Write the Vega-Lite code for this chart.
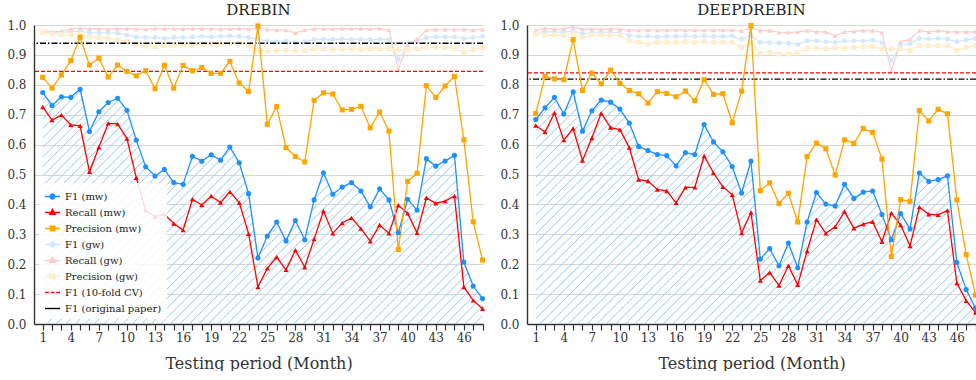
{
"$schema":"https://vega.github.io/schema/vega-lite/v6.json",
"padding":{"left":4,"top":3,"right":0,"bottom":0},
"datasets":{
"ref":[
{"model":"Drebin","series":"F1 (10-fold CV)","value":0.845},
{"model":"Drebin","series":"F1 (original paper)","value":0.939},
{"model":"DeepDrebin","series":"F1 (10-fold CV)","value":0.840},
{"model":"DeepDrebin","series":"F1 (original paper)","value":0.819}
],
"drebin":[
{"month":1,"series":"F1 (mw)","value":0.774},{"month":2,"series":"F1 (mw)","value":0.731},{"month":3,"series":"F1 (mw)","value":0.760},{"month":4,"series":"F1 (mw)","value":0.758},{"month":5,"series":"F1 (mw)","value":0.785},{"month":6,"series":"F1 (mw)","value":0.644},{"month":7,"series":"F1 (mw)","value":0.710},{"month":8,"series":"F1 (mw)","value":0.741},{"month":9,"series":"F1 (mw)","value":0.755},{"month":10,"series":"F1 (mw)","value":0.715},{"month":11,"series":"F1 (mw)","value":0.615},{"month":12,"series":"F1 (mw)","value":0.526},{"month":13,"series":"F1 (mw)","value":0.495},{"month":14,"series":"F1 (mw)","value":0.517},{"month":15,"series":"F1 (mw)","value":0.473},{"month":16,"series":"F1 (mw)","value":0.467},{"month":17,"series":"F1 (mw)","value":0.561},{"month":18,"series":"F1 (mw)","value":0.544},{"month":19,"series":"F1 (mw)","value":0.566},{"month":20,"series":"F1 (mw)","value":0.548},{"month":21,"series":"F1 (mw)","value":0.592},{"month":22,"series":"F1 (mw)","value":0.539},{"month":23,"series":"F1 (mw)","value":0.436},{"month":24,"series":"F1 (mw)","value":0.221},{"month":25,"series":"F1 (mw)","value":0.294},{"month":26,"series":"F1 (mw)","value":0.341},{"month":27,"series":"F1 (mw)","value":0.278},{"month":28,"series":"F1 (mw)","value":0.346},{"month":29,"series":"F1 (mw)","value":0.282},{"month":30,"series":"F1 (mw)","value":0.415},{"month":31,"series":"F1 (mw)","value":0.506},{"month":32,"series":"F1 (mw)","value":0.434},{"month":33,"series":"F1 (mw)","value":0.458},{"month":34,"series":"F1 (mw)","value":0.473},{"month":35,"series":"F1 (mw)","value":0.445},{"month":36,"series":"F1 (mw)","value":0.392},{"month":37,"series":"F1 (mw)","value":0.452},{"month":38,"series":"F1 (mw)","value":0.415},{"month":39,"series":"F1 (mw)","value":0.305},{"month":40,"series":"F1 (mw)","value":0.417},{"month":41,"series":"F1 (mw)","value":0.381},{"month":42,"series":"F1 (mw)","value":0.553},{"month":43,"series":"F1 (mw)","value":0.528},{"month":44,"series":"F1 (mw)","value":0.545},{"month":45,"series":"F1 (mw)","value":0.564},{"month":46,"series":"F1 (mw)","value":0.207},{"month":47,"series":"F1 (mw)","value":0.127},{"month":48,"series":"F1 (mw)","value":0.085},
{"month":1,"series":"Recall (mw)","value":0.726},{"month":2,"series":"Recall (mw)","value":0.682},{"month":3,"series":"Recall (mw)","value":0.699},{"month":4,"series":"Recall (mw)","value":0.666},{"month":5,"series":"Recall (mw)","value":0.663},{"month":6,"series":"Recall (mw)","value":0.509},{"month":7,"series":"Recall (mw)","value":0.591},{"month":8,"series":"Recall (mw)","value":0.671},{"month":9,"series":"Recall (mw)","value":0.669},{"month":10,"series":"Recall (mw)","value":0.620},{"month":11,"series":"Recall (mw)","value":0.489},{"month":12,"series":"Recall (mw)","value":0.380},{"month":13,"series":"Recall (mw)","value":0.359},{"month":14,"series":"Recall (mw)","value":0.367},{"month":15,"series":"Recall (mw)","value":0.336},{"month":16,"series":"Recall (mw)","value":0.314},{"month":17,"series":"Recall (mw)","value":0.417},{"month":18,"series":"Recall (mw)","value":0.398},{"month":19,"series":"Recall (mw)","value":0.428},{"month":20,"series":"Recall (mw)","value":0.406},{"month":21,"series":"Recall (mw)","value":0.442},{"month":22,"series":"Recall (mw)","value":0.406},{"month":23,"series":"Recall (mw)","value":0.302},{"month":24,"series":"Recall (mw)","value":0.124},{"month":25,"series":"Recall (mw)","value":0.186},{"month":26,"series":"Recall (mw)","value":0.224},{"month":27,"series":"Recall (mw)","value":0.181},{"month":28,"series":"Recall (mw)","value":0.247},{"month":29,"series":"Recall (mw)","value":0.190},{"month":30,"series":"Recall (mw)","value":0.284},{"month":31,"series":"Recall (mw)","value":0.378},{"month":32,"series":"Recall (mw)","value":0.303},{"month":33,"series":"Recall (mw)","value":0.338},{"month":34,"series":"Recall (mw)","value":0.355},{"month":35,"series":"Recall (mw)","value":0.319},{"month":36,"series":"Recall (mw)","value":0.277},{"month":37,"series":"Recall (mw)","value":0.331},{"month":38,"series":"Recall (mw)","value":0.303},{"month":39,"series":"Recall (mw)","value":0.397},{"month":40,"series":"Recall (mw)","value":0.370},{"month":41,"series":"Recall (mw)","value":0.305},{"month":42,"series":"Recall (mw)","value":0.422},{"month":43,"series":"Recall (mw)","value":0.404},{"month":44,"series":"Recall (mw)","value":0.411},{"month":45,"series":"Recall (mw)","value":0.428},{"month":46,"series":"Recall (mw)","value":0.124},{"month":47,"series":"Recall (mw)","value":0.079},{"month":48,"series":"Recall (mw)","value":0.051},
{"month":1,"series":"Precision (mw)","value":0.825},{"month":2,"series":"Precision (mw)","value":0.789},{"month":3,"series":"Precision (mw)","value":0.833},{"month":4,"series":"Precision (mw)","value":0.881},{"month":5,"series":"Precision (mw)","value":0.959},{"month":6,"series":"Precision (mw)","value":0.866},{"month":7,"series":"Precision (mw)","value":0.889},{"month":8,"series":"Precision (mw)","value":0.826},{"month":9,"series":"Precision (mw)","value":0.866},{"month":10,"series":"Precision (mw)","value":0.845},{"month":11,"series":"Precision (mw)","value":0.830},{"month":12,"series":"Precision (mw)","value":0.847},{"month":13,"series":"Precision (mw)","value":0.787},{"month":14,"series":"Precision (mw)","value":0.865},{"month":15,"series":"Precision (mw)","value":0.789},{"month":16,"series":"Precision (mw)","value":0.865},{"month":17,"series":"Precision (mw)","value":0.847},{"month":18,"series":"Precision (mw)","value":0.858},{"month":19,"series":"Precision (mw)","value":0.838},{"month":20,"series":"Precision (mw)","value":0.838},{"month":21,"series":"Precision (mw)","value":0.878},{"month":22,"series":"Precision (mw)","value":0.806},{"month":23,"series":"Precision (mw)","value":0.778},{"month":24,"series":"Precision (mw)","value":0.997},{"month":25,"series":"Precision (mw)","value":0.668},{"month":26,"series":"Precision (mw)","value":0.727},{"month":27,"series":"Precision (mw)","value":0.590},{"month":28,"series":"Precision (mw)","value":0.560},{"month":29,"series":"Precision (mw)","value":0.542},{"month":30,"series":"Precision (mw)","value":0.748},{"month":31,"series":"Precision (mw)","value":0.773},{"month":32,"series":"Precision (mw)","value":0.769},{"month":33,"series":"Precision (mw)","value":0.716},{"month":34,"series":"Precision (mw)","value":0.718},{"month":35,"series":"Precision (mw)","value":0.728},{"month":36,"series":"Precision (mw)","value":0.656},{"month":37,"series":"Precision (mw)","value":0.709},{"month":38,"series":"Precision (mw)","value":0.645},{"month":39,"series":"Precision (mw)","value":0.249},{"month":40,"series":"Precision (mw)","value":0.477},{"month":41,"series":"Precision (mw)","value":0.504},{"month":42,"series":"Precision (mw)","value":0.797},{"month":43,"series":"Precision (mw)","value":0.758},{"month":44,"series":"Precision (mw)","value":0.796},{"month":45,"series":"Precision (mw)","value":0.828},{"month":46,"series":"Precision (mw)","value":0.616},{"month":47,"series":"Precision (mw)","value":0.342},{"month":48,"series":"Precision (mw)","value":0.214},
{"month":1,"series":"F1 (gw)","value":0.975},{"month":2,"series":"F1 (gw)","value":0.974},{"month":3,"series":"F1 (gw)","value":0.975},{"month":4,"series":"F1 (gw)","value":0.978},{"month":5,"series":"F1 (gw)","value":0.979},{"month":6,"series":"F1 (gw)","value":0.974},{"month":7,"series":"F1 (gw)","value":0.974},{"month":8,"series":"F1 (gw)","value":0.974},{"month":9,"series":"F1 (gw)","value":0.972},{"month":10,"series":"F1 (gw)","value":0.966},{"month":11,"series":"F1 (gw)","value":0.960},{"month":12,"series":"F1 (gw)","value":0.958},{"month":13,"series":"F1 (gw)","value":0.958},{"month":14,"series":"F1 (gw)","value":0.955},{"month":15,"series":"F1 (gw)","value":0.958},{"month":16,"series":"F1 (gw)","value":0.958},{"month":17,"series":"F1 (gw)","value":0.960},{"month":18,"series":"F1 (gw)","value":0.962},{"month":19,"series":"F1 (gw)","value":0.960},{"month":20,"series":"F1 (gw)","value":0.962},{"month":21,"series":"F1 (gw)","value":0.963},{"month":22,"series":"F1 (gw)","value":0.962},{"month":23,"series":"F1 (gw)","value":0.958},{"month":24,"series":"F1 (gw)","value":0.952},{"month":25,"series":"F1 (gw)","value":0.946},{"month":26,"series":"F1 (gw)","value":0.944},{"month":27,"series":"F1 (gw)","value":0.946},{"month":28,"series":"F1 (gw)","value":0.941},{"month":29,"series":"F1 (gw)","value":0.944},{"month":30,"series":"F1 (gw)","value":0.952},{"month":31,"series":"F1 (gw)","value":0.952},{"month":32,"series":"F1 (gw)","value":0.952},{"month":33,"series":"F1 (gw)","value":0.953},{"month":34,"series":"F1 (gw)","value":0.952},{"month":35,"series":"F1 (gw)","value":0.952},{"month":36,"series":"F1 (gw)","value":0.950},{"month":37,"series":"F1 (gw)","value":0.952},{"month":38,"series":"F1 (gw)","value":0.952},{"month":39,"series":"F1 (gw)","value":0.885},{"month":40,"series":"F1 (gw)","value":0.941},{"month":41,"series":"F1 (gw)","value":0.946},{"month":42,"series":"F1 (gw)","value":0.958},{"month":43,"series":"F1 (gw)","value":0.960},{"month":44,"series":"F1 (gw)","value":0.960},{"month":45,"series":"F1 (gw)","value":0.960},{"month":46,"series":"F1 (gw)","value":0.955},{"month":47,"series":"F1 (gw)","value":0.958},{"month":48,"series":"F1 (gw)","value":0.962},
{"month":1,"series":"Recall (gw)","value":0.981},{"month":2,"series":"Recall (gw)","value":0.977},{"month":3,"series":"Recall (gw)","value":0.979},{"month":4,"series":"Recall (gw)","value":0.986},{"month":5,"series":"Recall (gw)","value":0.990},{"month":6,"series":"Recall (gw)","value":0.988},{"month":7,"series":"Recall (gw)","value":0.988},{"month":8,"series":"Recall (gw)","value":0.986},{"month":9,"series":"Recall (gw)","value":0.988},{"month":10,"series":"Recall (gw)","value":0.988},{"month":11,"series":"Recall (gw)","value":0.986},{"month":12,"series":"Recall (gw)","value":0.986},{"month":13,"series":"Recall (gw)","value":0.988},{"month":14,"series":"Recall (gw)","value":0.988},{"month":15,"series":"Recall (gw)","value":0.988},{"month":16,"series":"Recall (gw)","value":0.986},{"month":17,"series":"Recall (gw)","value":0.988},{"month":18,"series":"Recall (gw)","value":0.988},{"month":19,"series":"Recall (gw)","value":0.988},{"month":20,"series":"Recall (gw)","value":0.986},{"month":21,"series":"Recall (gw)","value":0.988},{"month":22,"series":"Recall (gw)","value":0.988},{"month":23,"series":"Recall (gw)","value":0.986},{"month":24,"series":"Recall (gw)","value":0.990},{"month":25,"series":"Recall (gw)","value":0.985},{"month":26,"series":"Recall (gw)","value":0.983},{"month":27,"series":"Recall (gw)","value":0.983},{"month":28,"series":"Recall (gw)","value":0.974},{"month":29,"series":"Recall (gw)","value":0.983},{"month":30,"series":"Recall (gw)","value":0.988},{"month":31,"series":"Recall (gw)","value":0.988},{"month":32,"series":"Recall (gw)","value":0.988},{"month":33,"series":"Recall (gw)","value":0.988},{"month":34,"series":"Recall (gw)","value":0.988},{"month":35,"series":"Recall (gw)","value":0.988},{"month":36,"series":"Recall (gw)","value":0.988},{"month":37,"series":"Recall (gw)","value":0.988},{"month":38,"series":"Recall (gw)","value":0.983},{"month":39,"series":"Recall (gw)","value":0.852},{"month":40,"series":"Recall (gw)","value":0.935},{"month":41,"series":"Recall (gw)","value":0.952},{"month":42,"series":"Recall (gw)","value":0.983},{"month":43,"series":"Recall (gw)","value":0.985},{"month":44,"series":"Recall (gw)","value":0.985},{"month":45,"series":"Recall (gw)","value":0.985},{"month":46,"series":"Recall (gw)","value":0.985},{"month":47,"series":"Recall (gw)","value":0.983},{"month":48,"series":"Recall (gw)","value":0.985},
{"month":1,"series":"Precision (gw)","value":0.975},{"month":2,"series":"Precision (gw)","value":0.970},{"month":3,"series":"Precision (gw)","value":0.968},{"month":4,"series":"Precision (gw)","value":0.968},{"month":5,"series":"Precision (gw)","value":0.968},{"month":6,"series":"Precision (gw)","value":0.960},{"month":7,"series":"Precision (gw)","value":0.958},{"month":8,"series":"Precision (gw)","value":0.955},{"month":9,"series":"Precision (gw)","value":0.950},{"month":10,"series":"Precision (gw)","value":0.945},{"month":11,"series":"Precision (gw)","value":0.935},{"month":12,"series":"Precision (gw)","value":0.930},{"month":13,"series":"Precision (gw)","value":0.928},{"month":14,"series":"Precision (gw)","value":0.930},{"month":15,"series":"Precision (gw)","value":0.932},{"month":16,"series":"Precision (gw)","value":0.935},{"month":17,"series":"Precision (gw)","value":0.933},{"month":18,"series":"Precision (gw)","value":0.935},{"month":19,"series":"Precision (gw)","value":0.935},{"month":20,"series":"Precision (gw)","value":0.937},{"month":21,"series":"Precision (gw)","value":0.938},{"month":22,"series":"Precision (gw)","value":0.938},{"month":23,"series":"Precision (gw)","value":0.930},{"month":24,"series":"Precision (gw)","value":0.915},{"month":25,"series":"Precision (gw)","value":0.913},{"month":26,"series":"Precision (gw)","value":0.913},{"month":27,"series":"Precision (gw)","value":0.916},{"month":28,"series":"Precision (gw)","value":0.913},{"month":29,"series":"Precision (gw)","value":0.914},{"month":30,"series":"Precision (gw)","value":0.920},{"month":31,"series":"Precision (gw)","value":0.920},{"month":32,"series":"Precision (gw)","value":0.918},{"month":33,"series":"Precision (gw)","value":0.919},{"month":34,"series":"Precision (gw)","value":0.920},{"month":35,"series":"Precision (gw)","value":0.919},{"month":36,"series":"Precision (gw)","value":0.920},{"month":37,"series":"Precision (gw)","value":0.920},{"month":38,"series":"Precision (gw)","value":0.920},{"month":39,"series":"Precision (gw)","value":0.918},{"month":40,"series":"Precision (gw)","value":0.918},{"month":41,"series":"Precision (gw)","value":0.920},{"month":42,"series":"Precision (gw)","value":0.925},{"month":43,"series":"Precision (gw)","value":0.925},{"month":44,"series":"Precision (gw)","value":0.925},{"month":45,"series":"Precision (gw)","value":0.922},{"month":46,"series":"Precision (gw)","value":0.907},{"month":47,"series":"Precision (gw)","value":0.918},{"month":48,"series":"Precision (gw)","value":0.924}
],
"deepdrebin":[
{"month":1,"series":"F1 (mw)","value":0.684},{"month":2,"series":"F1 (mw)","value":0.723},{"month":3,"series":"F1 (mw)","value":0.758},{"month":4,"series":"F1 (mw)","value":0.702},{"month":5,"series":"F1 (mw)","value":0.777},{"month":6,"series":"F1 (mw)","value":0.645},{"month":7,"series":"F1 (mw)","value":0.713},{"month":8,"series":"F1 (mw)","value":0.749},{"month":9,"series":"F1 (mw)","value":0.742},{"month":10,"series":"F1 (mw)","value":0.719},{"month":11,"series":"F1 (mw)","value":0.672},{"month":12,"series":"F1 (mw)","value":0.594},{"month":13,"series":"F1 (mw)","value":0.580},{"month":14,"series":"F1 (mw)","value":0.567},{"month":15,"series":"F1 (mw)","value":0.563},{"month":16,"series":"F1 (mw)","value":0.529},{"month":17,"series":"F1 (mw)","value":0.573},{"month":18,"series":"F1 (mw)","value":0.567},{"month":19,"series":"F1 (mw)","value":0.667},{"month":20,"series":"F1 (mw)","value":0.609},{"month":21,"series":"F1 (mw)","value":0.576},{"month":22,"series":"F1 (mw)","value":0.527},{"month":23,"series":"F1 (mw)","value":0.438},{"month":24,"series":"F1 (mw)","value":0.545},{"month":25,"series":"F1 (mw)","value":0.217},{"month":26,"series":"F1 (mw)","value":0.252},{"month":27,"series":"F1 (mw)","value":0.195},{"month":28,"series":"F1 (mw)","value":0.271},{"month":29,"series":"F1 (mw)","value":0.188},{"month":30,"series":"F1 (mw)","value":0.341},{"month":31,"series":"F1 (mw)","value":0.440},{"month":32,"series":"F1 (mw)","value":0.401},{"month":33,"series":"F1 (mw)","value":0.395},{"month":34,"series":"F1 (mw)","value":0.467},{"month":35,"series":"F1 (mw)","value":0.420},{"month":36,"series":"F1 (mw)","value":0.441},{"month":37,"series":"F1 (mw)","value":0.445},{"month":38,"series":"F1 (mw)","value":0.366},{"month":39,"series":"F1 (mw)","value":0.282},{"month":40,"series":"F1 (mw)","value":0.369},{"month":41,"series":"F1 (mw)","value":0.318},{"month":42,"series":"F1 (mw)","value":0.505},{"month":43,"series":"F1 (mw)","value":0.477},{"month":44,"series":"F1 (mw)","value":0.483},{"month":45,"series":"F1 (mw)","value":0.496},{"month":46,"series":"F1 (mw)","value":0.206},{"month":47,"series":"F1 (mw)","value":0.115},{"month":48,"series":"F1 (mw)","value":0.053},
{"month":1,"series":"Recall (mw)","value":0.664},{"month":2,"series":"Recall (mw)","value":0.642},{"month":3,"series":"Recall (mw)","value":0.706},{"month":4,"series":"Recall (mw)","value":0.615},{"month":5,"series":"Recall (mw)","value":0.654},{"month":6,"series":"Recall (mw)","value":0.547},{"month":7,"series":"Recall (mw)","value":0.622},{"month":8,"series":"Recall (mw)","value":0.705},{"month":9,"series":"Recall (mw)","value":0.657},{"month":10,"series":"Recall (mw)","value":0.650},{"month":11,"series":"Recall (mw)","value":0.590},{"month":12,"series":"Recall (mw)","value":0.483},{"month":13,"series":"Recall (mw)","value":0.478},{"month":14,"series":"Recall (mw)","value":0.450},{"month":15,"series":"Recall (mw)","value":0.445},{"month":16,"series":"Recall (mw)","value":0.405},{"month":17,"series":"Recall (mw)","value":0.457},{"month":18,"series":"Recall (mw)","value":0.457},{"month":19,"series":"Recall (mw)","value":0.562},{"month":20,"series":"Recall (mw)","value":0.505},{"month":21,"series":"Recall (mw)","value":0.459},{"month":22,"series":"Recall (mw)","value":0.432},{"month":23,"series":"Recall (mw)","value":0.304},{"month":24,"series":"Recall (mw)","value":0.373},{"month":25,"series":"Recall (mw)","value":0.145},{"month":26,"series":"Recall (mw)","value":0.172},{"month":27,"series":"Recall (mw)","value":0.129},{"month":28,"series":"Recall (mw)","value":0.195},{"month":29,"series":"Recall (mw)","value":0.131},{"month":30,"series":"Recall (mw)","value":0.244},{"month":31,"series":"Recall (mw)","value":0.349},{"month":32,"series":"Recall (mw)","value":0.303},{"month":33,"series":"Recall (mw)","value":0.325},{"month":34,"series":"Recall (mw)","value":0.376},{"month":35,"series":"Recall (mw)","value":0.320},{"month":36,"series":"Recall (mw)","value":0.334},{"month":37,"series":"Recall (mw)","value":0.342},{"month":38,"series":"Recall (mw)","value":0.275},{"month":39,"series":"Recall (mw)","value":0.371},{"month":40,"series":"Recall (mw)","value":0.331},{"month":41,"series":"Recall (mw)","value":0.261},{"month":42,"series":"Recall (mw)","value":0.391},{"month":43,"series":"Recall (mw)","value":0.367},{"month":44,"series":"Recall (mw)","value":0.365},{"month":45,"series":"Recall (mw)","value":0.380},{"month":46,"series":"Recall (mw)","value":0.137},{"month":47,"series":"Recall (mw)","value":0.078},{"month":48,"series":"Recall (mw)","value":0.038},
{"month":1,"series":"Precision (mw)","value":0.704},{"month":2,"series":"Precision (mw)","value":0.828},{"month":3,"series":"Precision (mw)","value":0.820},{"month":4,"series":"Precision (mw)","value":0.817},{"month":5,"series":"Precision (mw)","value":0.951},{"month":6,"series":"Precision (mw)","value":0.781},{"month":7,"series":"Precision (mw)","value":0.839},{"month":8,"series":"Precision (mw)","value":0.803},{"month":9,"series":"Precision (mw)","value":0.849},{"month":10,"series":"Precision (mw)","value":0.805},{"month":11,"series":"Precision (mw)","value":0.781},{"month":12,"series":"Precision (mw)","value":0.770},{"month":13,"series":"Precision (mw)","value":0.739},{"month":14,"series":"Precision (mw)","value":0.777},{"month":15,"series":"Precision (mw)","value":0.771},{"month":16,"series":"Precision (mw)","value":0.760},{"month":17,"series":"Precision (mw)","value":0.779},{"month":18,"series":"Precision (mw)","value":0.747},{"month":19,"series":"Precision (mw)","value":0.817},{"month":20,"series":"Precision (mw)","value":0.768},{"month":21,"series":"Precision (mw)","value":0.770},{"month":22,"series":"Precision (mw)","value":0.673},{"month":23,"series":"Precision (mw)","value":0.779},{"month":24,"series":"Precision (mw)","value":0.998},{"month":25,"series":"Precision (mw)","value":0.446},{"month":26,"series":"Precision (mw)","value":0.472},{"month":27,"series":"Precision (mw)","value":0.403},{"month":28,"series":"Precision (mw)","value":0.437},{"month":29,"series":"Precision (mw)","value":0.341},{"month":30,"series":"Precision (mw)","value":0.560},{"month":31,"series":"Precision (mw)","value":0.605},{"month":32,"series":"Precision (mw)","value":0.586},{"month":33,"series":"Precision (mw)","value":0.498},{"month":34,"series":"Precision (mw)","value":0.616},{"month":35,"series":"Precision (mw)","value":0.604},{"month":36,"series":"Precision (mw)","value":0.654},{"month":37,"series":"Precision (mw)","value":0.641},{"month":38,"series":"Precision (mw)","value":0.552},{"month":39,"series":"Precision (mw)","value":0.226},{"month":40,"series":"Precision (mw)","value":0.416},{"month":41,"series":"Precision (mw)","value":0.410},{"month":42,"series":"Precision (mw)","value":0.714},{"month":43,"series":"Precision (mw)","value":0.679},{"month":44,"series":"Precision (mw)","value":0.718},{"month":45,"series":"Precision (mw)","value":0.703},{"month":46,"series":"Precision (mw)","value":0.415},{"month":47,"series":"Precision (mw)","value":0.232},{"month":48,"series":"Precision (mw)","value":0.097},
{"month":1,"series":"F1 (gw)","value":0.975},{"month":2,"series":"F1 (gw)","value":0.977},{"month":3,"series":"F1 (gw)","value":0.977},{"month":4,"series":"F1 (gw)","value":0.976},{"month":5,"series":"F1 (gw)","value":0.981},{"month":6,"series":"F1 (gw)","value":0.970},{"month":7,"series":"F1 (gw)","value":0.975},{"month":8,"series":"F1 (gw)","value":0.977},{"month":9,"series":"F1 (gw)","value":0.975},{"month":10,"series":"F1 (gw)","value":0.975},{"month":11,"series":"F1 (gw)","value":0.964},{"month":12,"series":"F1 (gw)","value":0.962},{"month":13,"series":"F1 (gw)","value":0.962},{"month":14,"series":"F1 (gw)","value":0.960},{"month":15,"series":"F1 (gw)","value":0.962},{"month":16,"series":"F1 (gw)","value":0.962},{"month":17,"series":"F1 (gw)","value":0.963},{"month":18,"series":"F1 (gw)","value":0.962},{"month":19,"series":"F1 (gw)","value":0.963},{"month":20,"series":"F1 (gw)","value":0.962},{"month":21,"series":"F1 (gw)","value":0.962},{"month":22,"series":"F1 (gw)","value":0.963},{"month":23,"series":"F1 (gw)","value":0.953},{"month":24,"series":"F1 (gw)","value":0.965},{"month":25,"series":"F1 (gw)","value":0.942},{"month":26,"series":"F1 (gw)","value":0.941},{"month":27,"series":"F1 (gw)","value":0.939},{"month":28,"series":"F1 (gw)","value":0.939},{"month":29,"series":"F1 (gw)","value":0.935},{"month":30,"series":"F1 (gw)","value":0.947},{"month":31,"series":"F1 (gw)","value":0.947},{"month":32,"series":"F1 (gw)","value":0.944},{"month":33,"series":"F1 (gw)","value":0.942},{"month":34,"series":"F1 (gw)","value":0.947},{"month":35,"series":"F1 (gw)","value":0.947},{"month":36,"series":"F1 (gw)","value":0.947},{"month":37,"series":"F1 (gw)","value":0.950},{"month":38,"series":"F1 (gw)","value":0.941},{"month":39,"series":"F1 (gw)","value":0.881},{"month":40,"series":"F1 (gw)","value":0.934},{"month":41,"series":"F1 (gw)","value":0.937},{"month":42,"series":"F1 (gw)","value":0.955},{"month":43,"series":"F1 (gw)","value":0.953},{"month":44,"series":"F1 (gw)","value":0.955},{"month":45,"series":"F1 (gw)","value":0.953},{"month":46,"series":"F1 (gw)","value":0.944},{"month":47,"series":"F1 (gw)","value":0.950},{"month":48,"series":"F1 (gw)","value":0.955},
{"month":1,"series":"Recall (gw)","value":0.982},{"month":2,"series":"Recall (gw)","value":0.989},{"month":3,"series":"Recall (gw)","value":0.986},{"month":4,"series":"Recall (gw)","value":0.987},{"month":5,"series":"Recall (gw)","value":0.994},{"month":6,"series":"Recall (gw)","value":0.986},{"month":7,"series":"Recall (gw)","value":0.987},{"month":8,"series":"Recall (gw)","value":0.986},{"month":9,"series":"Recall (gw)","value":0.987},{"month":10,"series":"Recall (gw)","value":0.986},{"month":11,"series":"Recall (gw)","value":0.983},{"month":12,"series":"Recall (gw)","value":0.983},{"month":13,"series":"Recall (gw)","value":0.983},{"month":14,"series":"Recall (gw)","value":0.983},{"month":15,"series":"Recall (gw)","value":0.983},{"month":16,"series":"Recall (gw)","value":0.983},{"month":17,"series":"Recall (gw)","value":0.983},{"month":18,"series":"Recall (gw)","value":0.983},{"month":19,"series":"Recall (gw)","value":0.983},{"month":20,"series":"Recall (gw)","value":0.983},{"month":21,"series":"Recall (gw)","value":0.983},{"month":22,"series":"Recall (gw)","value":0.983},{"month":23,"series":"Recall (gw)","value":0.980},{"month":24,"series":"Recall (gw)","value":0.990},{"month":25,"series":"Recall (gw)","value":0.981},{"month":26,"series":"Recall (gw)","value":0.981},{"month":27,"series":"Recall (gw)","value":0.975},{"month":28,"series":"Recall (gw)","value":0.975},{"month":29,"series":"Recall (gw)","value":0.977},{"month":30,"series":"Recall (gw)","value":0.981},{"month":31,"series":"Recall (gw)","value":0.977},{"month":32,"series":"Recall (gw)","value":0.977},{"month":33,"series":"Recall (gw)","value":0.964},{"month":34,"series":"Recall (gw)","value":0.977},{"month":35,"series":"Recall (gw)","value":0.979},{"month":36,"series":"Recall (gw)","value":0.981},{"month":37,"series":"Recall (gw)","value":0.981},{"month":38,"series":"Recall (gw)","value":0.975},{"month":39,"series":"Recall (gw)","value":0.847},{"month":40,"series":"Recall (gw)","value":0.944},{"month":41,"series":"Recall (gw)","value":0.952},{"month":42,"series":"Recall (gw)","value":0.981},{"month":43,"series":"Recall (gw)","value":0.977},{"month":44,"series":"Recall (gw)","value":0.981},{"month":45,"series":"Recall (gw)","value":0.977},{"month":46,"series":"Recall (gw)","value":0.977},{"month":47,"series":"Recall (gw)","value":0.977},{"month":48,"series":"Recall (gw)","value":0.977},
{"month":1,"series":"Precision (gw)","value":0.970},{"month":2,"series":"Precision (gw)","value":0.966},{"month":3,"series":"Precision (gw)","value":0.967},{"month":4,"series":"Precision (gw)","value":0.966},{"month":5,"series":"Precision (gw)","value":0.972},{"month":6,"series":"Precision (gw)","value":0.959},{"month":7,"series":"Precision (gw)","value":0.966},{"month":8,"series":"Precision (gw)","value":0.967},{"month":9,"series":"Precision (gw)","value":0.966},{"month":10,"series":"Precision (gw)","value":0.966},{"month":11,"series":"Precision (gw)","value":0.947},{"month":12,"series":"Precision (gw)","value":0.942},{"month":13,"series":"Precision (gw)","value":0.936},{"month":14,"series":"Precision (gw)","value":0.942},{"month":15,"series":"Precision (gw)","value":0.943},{"month":16,"series":"Precision (gw)","value":0.943},{"month":17,"series":"Precision (gw)","value":0.944},{"month":18,"series":"Precision (gw)","value":0.942},{"month":19,"series":"Precision (gw)","value":0.944},{"month":20,"series":"Precision (gw)","value":0.943},{"month":21,"series":"Precision (gw)","value":0.942},{"month":22,"series":"Precision (gw)","value":0.942},{"month":23,"series":"Precision (gw)","value":0.925},{"month":24,"series":"Precision (gw)","value":0.940},{"month":25,"series":"Precision (gw)","value":0.906},{"month":26,"series":"Precision (gw)","value":0.908},{"month":27,"series":"Precision (gw)","value":0.903},{"month":28,"series":"Precision (gw)","value":0.903},{"month":29,"series":"Precision (gw)","value":0.906},{"month":30,"series":"Precision (gw)","value":0.922},{"month":31,"series":"Precision (gw)","value":0.923},{"month":32,"series":"Precision (gw)","value":0.920},{"month":33,"series":"Precision (gw)","value":0.925},{"month":34,"series":"Precision (gw)","value":0.922},{"month":35,"series":"Precision (gw)","value":0.925},{"month":36,"series":"Precision (gw)","value":0.927},{"month":37,"series":"Precision (gw)","value":0.928},{"month":38,"series":"Precision (gw)","value":0.920},{"month":39,"series":"Precision (gw)","value":0.920},{"month":40,"series":"Precision (gw)","value":0.920},{"month":41,"series":"Precision (gw)","value":0.914},{"month":42,"series":"Precision (gw)","value":0.931},{"month":43,"series":"Precision (gw)","value":0.931},{"month":44,"series":"Precision (gw)","value":0.931},{"month":45,"series":"Precision (gw)","value":0.931},{"month":46,"series":"Precision (gw)","value":0.914},{"month":47,"series":"Precision (gw)","value":0.925},{"month":48,"series":"Precision (gw)","value":0.931}
]
},
"hconcat":[
{
"width":449,"height":299,
"title":"DREBIN",
"data":{"name":"drebin"},
"layer":[
{"layer":[
{"transform":[{"filter":"datum.series==='F1 (mw)'"}],"mark":{"type":"area"}},
{"transform":[{"filter":"indexof(datum.series,'(gw)')>=0"}],"mark":{"type":"line","strokeWidth":1.2},"encoding":{"color":{"field":"series","type":"nominal"}}},
{"transform":[{"filter":"indexof(datum.series,'(gw)')>=0"}],"mark":{"type":"point","filled":true,"size":24,"opacity":1},"encoding":{"color":{"field":"series","type":"nominal"},"shape":{"field":"series","type":"nominal","scale":{"domain":["F1 (mw)","Recall (mw)","Precision (mw)","F1 (gw)","Recall (gw)","Precision (gw)"],"range":["circle","triangle-up","square","circle","triangle-up","square"]},"legend":null}}}
],
"encoding":{
 "x":{"field":"month","type":"quantitative","scale":{"domain":[0.07,48.05],"nice":false,"zero":false},"axis":{"values":[1,2,3,4,5,6,7,8,9,10,11,12,13,14,15,16,17,18,19,20,21,22,23,24,25,26,27,28,29,30,31,32,33,34,35,36,37,38,39,40,41,42,43,44,45,46,47,48],"labelExpr":"(datum.value-1)%3===0 ? datum.label : ''","labelOverlap":false,"labelSeparation":0},"title":"Testing period (Month)"},
 "y":{"field":"value","type":"quantitative","stack":null,"scale":{"domain":[0,1],"nice":false},"axis":{"values":[0,0.1,0.2,0.3,0.4,0.5,0.6,0.7,0.8,0.9,1],"format":".1f","labelOverlap":false},"title":null}}},
{"data":{"name":"ref"},"transform":[{"filter":"datum.model==='Drebin' && datum.series==='F1 (10-fold CV)'"}],
 "mark":{"type":"rule","strokeDash":[4,2],"strokeWidth":1.3},
 "encoding":{"y":{"field":"value","type":"quantitative","axis":{"values":[0,0.1,0.2,0.3,0.4,0.5,0.6,0.7,0.8,0.9,1],"format":".1f","labelOverlap":false}},"color":{"field":"series","type":"nominal"}}},
{"data":{"name":"ref"},"transform":[{"filter":"datum.model==='Drebin' && datum.series==='F1 (original paper)'"}],
 "mark":{"type":"rule","strokeDash":[6,2,1.5,2],"strokeWidth":1.3},
 "encoding":{"y":{"field":"value","type":"quantitative","axis":{"values":[0,0.1,0.2,0.3,0.4,0.5,0.6,0.7,0.8,0.9,1],"format":".1f","labelOverlap":false}},"color":{"field":"series","type":"nominal"}}},
{"layer":[
{"transform":[{"filter":"indexof(datum.series,'(mw)')>=0"}],"mark":{"type":"line","strokeWidth":1.3}},
{"transform":[{"filter":"indexof(datum.series,'(mw)')>=0"}],"mark":{"type":"point","filled":true,"size":26,"opacity":1},"encoding":{"shape":{"field":"series","type":"nominal","legend":null}}}
],
"encoding":{
 "x":{"field":"month","type":"quantitative","axis":{"values":[1,2,3,4,5,6,7,8,9,10,11,12,13,14,15,16,17,18,19,20,21,22,23,24,25,26,27,28,29,30,31,32,33,34,35,36,37,38,39,40,41,42,43,44,45,46,47,48],"labelExpr":"(datum.value-1)%3===0 ? datum.label : ''","labelOverlap":false,"labelSeparation":0},"title":"Testing period (Month)"},
 "y":{"field":"value","type":"quantitative","axis":{"values":[0,0.1,0.2,0.3,0.4,0.5,0.6,0.7,0.8,0.9,1],"format":".1f","labelOverlap":false},"title":null},
 "color":{"field":"series","type":"nominal","scale":{"domain":["F1 (mw)","Recall (mw)","Precision (mw)","F1 (gw)","Recall (gw)","Precision (gw)","F1 (10-fold CV)","F1 (original paper)"],"range":["#1e90ff","#ff0000","#ffa500","#d2e8ff","#ffcccc","#ffedcc","#ff0000","#000000"]},
   "legend":{"title":null,"orient":"bottom-left","encode":{"symbols":{"update":{
    "shape":{"signal":"({'F1 (mw)':'M-1,0L1,0M0.33,0A0.33,0.33,0,1,1,-0.33,0A0.33,0.33,0,1,1,0.33,0Z','Recall (mw)':'M-1,0L1,0M0,-0.4L0.37,0.25L-0.37,0.25Z','Precision (mw)':'M-1,0L1,0M-0.3,-0.3L0.3,-0.3L0.3,0.3L-0.3,0.3Z','F1 (gw)':'M-1,0L1,0M0.33,0A0.33,0.33,0,1,1,-0.33,0A0.33,0.33,0,1,1,0.33,0Z','Recall (gw)':'M-1,0L1,0M0,-0.4L0.37,0.25L-0.37,0.25Z','Precision (gw)':'M-1,0L1,0M-0.3,-0.3L0.3,-0.3L0.3,0.3L-0.3,0.3Z','F1 (10-fold CV)':'M-1,0L-0.5,0M-0.25,0L0.25,0M0.5,0L1,0','F1 (original paper)':'M-1,0L1,0'})[datum.value]"},
    "fill":{"signal":"({'F1 (mw)':'#1e90ff','Recall (mw)':'#ff0000','Precision (mw)':'#ffa500','F1 (gw)':'#d2e8ff','Recall (gw)':'#ffcccc','Precision (gw)':'#ffedcc','F1 (10-fold CV)':'#ff0000','F1 (original paper)':'#000000'})[datum.value]"},
    "stroke":{"signal":"({'F1 (mw)':'#1e90ff','Recall (mw)':'#ff0000','Precision (mw)':'#ffa500','F1 (gw)':'#d2e8ff','Recall (gw)':'#ffcccc','Precision (gw)':'#ffedcc','F1 (10-fold CV)':'#ff0000','F1 (original paper)':'#000000'})[datum.value]"},
    "strokeWidth":{"value":1.4},"opacity":{"value":1}}}}}}}}
]
},
{
"width":449,"height":299,
"title":"DEEPDREBIN",
"data":{"name":"deepdrebin"},
"layer":[
{"layer":[
{"transform":[{"filter":"datum.series==='F1 (mw)'"}],"mark":{"type":"area"}},
{"transform":[{"filter":"indexof(datum.series,'(gw)')>=0"}],"mark":{"type":"line","strokeWidth":1.2},"encoding":{"color":{"field":"series","type":"nominal","legend":null}}},
{"transform":[{"filter":"indexof(datum.series,'(gw)')>=0"}],"mark":{"type":"point","filled":true,"size":24,"opacity":1},"encoding":{"color":{"field":"series","type":"nominal","legend":null},"shape":{"field":"series","type":"nominal","scale":{"domain":["F1 (mw)","Recall (mw)","Precision (mw)","F1 (gw)","Recall (gw)","Precision (gw)"],"range":["circle","triangle-up","square","circle","triangle-up","square"]},"legend":null}}}
],
"encoding":{
 "x":{"field":"month","type":"quantitative","scale":{"domain":[0.07,48.05],"nice":false,"zero":false},"axis":{"values":[1,2,3,4,5,6,7,8,9,10,11,12,13,14,15,16,17,18,19,20,21,22,23,24,25,26,27,28,29,30,31,32,33,34,35,36,37,38,39,40,41,42,43,44,45,46,47,48],"labelExpr":"(datum.value-1)%3===0 ? datum.label : ''","labelOverlap":false,"labelSeparation":0},"title":"Testing period (Month)"},
 "y":{"field":"value","type":"quantitative","stack":null,"scale":{"domain":[0,1],"nice":false},"axis":{"values":[0,0.1,0.2,0.3,0.4,0.5,0.6,0.7,0.8,0.9,1],"format":".1f","labelOverlap":false},"title":null}}},
{"data":{"name":"ref"},"transform":[{"filter":"datum.model==='DeepDrebin' && datum.series==='F1 (10-fold CV)'"}],
 "mark":{"type":"rule","strokeDash":[4,2],"strokeWidth":1.3},
 "encoding":{"y":{"field":"value","type":"quantitative","axis":{"values":[0,0.1,0.2,0.3,0.4,0.5,0.6,0.7,0.8,0.9,1],"format":".1f","labelOverlap":false}},"color":{"field":"series","type":"nominal","legend":null}}},
{"data":{"name":"ref"},"transform":[{"filter":"datum.model==='DeepDrebin' && datum.series==='F1 (original paper)'"}],
 "mark":{"type":"rule","strokeDash":[6,2,1.5,2],"strokeWidth":1.3},
 "encoding":{"y":{"field":"value","type":"quantitative","axis":{"values":[0,0.1,0.2,0.3,0.4,0.5,0.6,0.7,0.8,0.9,1],"format":".1f","labelOverlap":false}},"color":{"field":"series","type":"nominal","legend":null}}},
{"layer":[
{"transform":[{"filter":"indexof(datum.series,'(mw)')>=0"}],"mark":{"type":"line","strokeWidth":1.3}},
{"transform":[{"filter":"indexof(datum.series,'(mw)')>=0"}],"mark":{"type":"point","filled":true,"size":26,"opacity":1},"encoding":{"shape":{"field":"series","type":"nominal","legend":null}}}
],
"encoding":{
 "x":{"field":"month","type":"quantitative","axis":{"values":[1,2,3,4,5,6,7,8,9,10,11,12,13,14,15,16,17,18,19,20,21,22,23,24,25,26,27,28,29,30,31,32,33,34,35,36,37,38,39,40,41,42,43,44,45,46,47,48],"labelExpr":"(datum.value-1)%3===0 ? datum.label : ''","labelOverlap":false,"labelSeparation":0},"title":"Testing period (Month)"},
 "y":{"field":"value","type":"quantitative","axis":{"values":[0,0.1,0.2,0.3,0.4,0.5,0.6,0.7,0.8,0.9,1],"format":".1f","labelOverlap":false},"title":null},
 "color":{"field":"series","type":"nominal","scale":{"domain":["F1 (mw)","Recall (mw)","Precision (mw)","F1 (gw)","Recall (gw)","Precision (gw)","F1 (10-fold CV)","F1 (original paper)"],"range":["#1e90ff","#ff0000","#ffa500","#d2e8ff","#ffcccc","#ffedcc","#ff0000","#000000"]},"legend":null}}}
]
}
],
"resolve":{"scale":{"color":"independent","shape":"independent"}},
"config":{
 "view":{"stroke":null},
 "font":"DejaVu Serif",
 "concat":{"spacing":11},
 "title":{"font":"DejaVu Serif","fontSize":15,"fontWeight":"normal","color":"#222222","offset":1},
 "axis":{"labelFont":"DejaVu Serif","titleFont":"DejaVu Serif","labelFontSize":12,"titleFontSize":16,"titleFontWeight":"normal","labelColor":"#333333","titleColor":"#333333","domainColor":"#333333","domainWidth":1.4,"gridColor":"#d6d6d6","gridWidth":1,"labelOverlap":false},
 "axisX":{"grid":false,"ticks":true,"tickColor":"#333333","tickSize":6,"tickWidth":1.2,"labelPadding":2,"titlePadding":12,"labelOverlap":false},
 "axisY":{"grid":true,"ticks":false,"labelPadding":8,"minExtent":30,"maxExtent":30,"labelOverlap":false},
 "legend":{"labelFont":"DejaVu Serif","labelFontSize":10,"labelColor":"#222222","fillColor":"rgba(255,255,255,0.85)","padding":5,"offset":5,"rowPadding":2,"symbolSize":225,"labelOffset":4},
 "area":{"fill":{"gradient":"linear","x1":0,"y1":0,"x2":1.345,"y2":0.718,"stops":[
{"offset":0,"color":"rgba(158,205,250,0)"},{"offset":0.0015,"color":"#9ecdfa"},{"offset":0.003,"color":"rgba(158,205,250,0)"},
{"offset":0.0125,"color":"rgba(158,205,250,0)"},{"offset":0.014,"color":"#9ecdfa"},{"offset":0.0155,"color":"rgba(158,205,250,0)"},
{"offset":0.025,"color":"rgba(158,205,250,0)"},{"offset":0.0265,"color":"#9ecdfa"},{"offset":0.028,"color":"rgba(158,205,250,0)"},
{"offset":0.0375,"color":"rgba(158,205,250,0)"},{"offset":0.039,"color":"#9ecdfa"},{"offset":0.0405,"color":"rgba(158,205,250,0)"},
{"offset":0.05,"color":"rgba(158,205,250,0)"},{"offset":0.0515,"color":"#9ecdfa"},{"offset":0.053,"color":"rgba(158,205,250,0)"},
{"offset":0.0625,"color":"rgba(158,205,250,0)"},{"offset":0.064,"color":"#9ecdfa"},{"offset":0.0655,"color":"rgba(158,205,250,0)"},
{"offset":0.075,"color":"rgba(158,205,250,0)"},{"offset":0.0765,"color":"#9ecdfa"},{"offset":0.078,"color":"rgba(158,205,250,0)"},
{"offset":0.0875,"color":"rgba(158,205,250,0)"},{"offset":0.089,"color":"#9ecdfa"},{"offset":0.0905,"color":"rgba(158,205,250,0)"},
{"offset":0.1,"color":"rgba(158,205,250,0)"},{"offset":0.1015,"color":"#9ecdfa"},{"offset":0.103,"color":"rgba(158,205,250,0)"},
{"offset":0.1125,"color":"rgba(158,205,250,0)"},{"offset":0.114,"color":"#9ecdfa"},{"offset":0.1155,"color":"rgba(158,205,250,0)"},
{"offset":0.125,"color":"rgba(158,205,250,0)"},{"offset":0.1265,"color":"#9ecdfa"},{"offset":0.128,"color":"rgba(158,205,250,0)"},
{"offset":0.1375,"color":"rgba(158,205,250,0)"},{"offset":0.139,"color":"#9ecdfa"},{"offset":0.1405,"color":"rgba(158,205,250,0)"},
{"offset":0.15,"color":"rgba(158,205,250,0)"},{"offset":0.1515,"color":"#9ecdfa"},{"offset":0.153,"color":"rgba(158,205,250,0)"},
{"offset":0.1625,"color":"rgba(158,205,250,0)"},{"offset":0.164,"color":"#9ecdfa"},{"offset":0.1655,"color":"rgba(158,205,250,0)"},
{"offset":0.175,"color":"rgba(158,205,250,0)"},{"offset":0.1765,"color":"#9ecdfa"},{"offset":0.178,"color":"rgba(158,205,250,0)"},
{"offset":0.1875,"color":"rgba(158,205,250,0)"},{"offset":0.189,"color":"#9ecdfa"},{"offset":0.1905,"color":"rgba(158,205,250,0)"},
{"offset":0.2,"color":"rgba(158,205,250,0)"},{"offset":0.2015,"color":"#9ecdfa"},{"offset":0.203,"color":"rgba(158,205,250,0)"},
{"offset":0.2125,"color":"rgba(158,205,250,0)"},{"offset":0.214,"color":"#9ecdfa"},{"offset":0.2155,"color":"rgba(158,205,250,0)"},
{"offset":0.225,"color":"rgba(158,205,250,0)"},{"offset":0.2265,"color":"#9ecdfa"},{"offset":0.228,"color":"rgba(158,205,250,0)"},
{"offset":0.2375,"color":"rgba(158,205,250,0)"},{"offset":0.239,"color":"#9ecdfa"},{"offset":0.2405,"color":"rgba(158,205,250,0)"},
{"offset":0.25,"color":"rgba(158,205,250,0)"},{"offset":0.2515,"color":"#9ecdfa"},{"offset":0.253,"color":"rgba(158,205,250,0)"},
{"offset":0.2625,"color":"rgba(158,205,250,0)"},{"offset":0.264,"color":"#9ecdfa"},{"offset":0.2655,"color":"rgba(158,205,250,0)"},
{"offset":0.275,"color":"rgba(158,205,250,0)"},{"offset":0.2765,"color":"#9ecdfa"},{"offset":0.278,"color":"rgba(158,205,250,0)"},
{"offset":0.2875,"color":"rgba(158,205,250,0)"},{"offset":0.289,"color":"#9ecdfa"},{"offset":0.2905,"color":"rgba(158,205,250,0)"},
{"offset":0.3,"color":"rgba(158,205,250,0)"},{"offset":0.3015,"color":"#9ecdfa"},{"offset":0.303,"color":"rgba(158,205,250,0)"},
{"offset":0.3125,"color":"rgba(158,205,250,0)"},{"offset":0.314,"color":"#9ecdfa"},{"offset":0.3155,"color":"rgba(158,205,250,0)"},
{"offset":0.325,"color":"rgba(158,205,250,0)"},{"offset":0.3265,"color":"#9ecdfa"},{"offset":0.328,"color":"rgba(158,205,250,0)"},
{"offset":0.3375,"color":"rgba(158,205,250,0)"},{"offset":0.339,"color":"#9ecdfa"},{"offset":0.3405,"color":"rgba(158,205,250,0)"},
{"offset":0.35,"color":"rgba(158,205,250,0)"},{"offset":0.3515,"color":"#9ecdfa"},{"offset":0.353,"color":"rgba(158,205,250,0)"},
{"offset":0.3625,"color":"rgba(158,205,250,0)"},{"offset":0.364,"color":"#9ecdfa"},{"offset":0.3655,"color":"rgba(158,205,250,0)"},
{"offset":0.375,"color":"rgba(158,205,250,0)"},{"offset":0.3765,"color":"#9ecdfa"},{"offset":0.378,"color":"rgba(158,205,250,0)"},
{"offset":0.3875,"color":"rgba(158,205,250,0)"},{"offset":0.389,"color":"#9ecdfa"},{"offset":0.3905,"color":"rgba(158,205,250,0)"},
{"offset":0.4,"color":"rgba(158,205,250,0)"},{"offset":0.4015,"color":"#9ecdfa"},{"offset":0.403,"color":"rgba(158,205,250,0)"},
{"offset":0.4125,"color":"rgba(158,205,250,0)"},{"offset":0.414,"color":"#9ecdfa"},{"offset":0.4155,"color":"rgba(158,205,250,0)"},
{"offset":0.425,"color":"rgba(158,205,250,0)"},{"offset":0.4265,"color":"#9ecdfa"},{"offset":0.428,"color":"rgba(158,205,250,0)"},
{"offset":0.4375,"color":"rgba(158,205,250,0)"},{"offset":0.439,"color":"#9ecdfa"},{"offset":0.4405,"color":"rgba(158,205,250,0)"},
{"offset":0.45,"color":"rgba(158,205,250,0)"},{"offset":0.4515,"color":"#9ecdfa"},{"offset":0.453,"color":"rgba(158,205,250,0)"},
{"offset":0.4625,"color":"rgba(158,205,250,0)"},{"offset":0.464,"color":"#9ecdfa"},{"offset":0.4655,"color":"rgba(158,205,250,0)"},
{"offset":0.475,"color":"rgba(158,205,250,0)"},{"offset":0.4765,"color":"#9ecdfa"},{"offset":0.478,"color":"rgba(158,205,250,0)"},
{"offset":0.4875,"color":"rgba(158,205,250,0)"},{"offset":0.489,"color":"#9ecdfa"},{"offset":0.4905,"color":"rgba(158,205,250,0)"},
{"offset":0.5,"color":"rgba(158,205,250,0)"},{"offset":0.5015,"color":"#9ecdfa"},{"offset":0.503,"color":"rgba(158,205,250,0)"},
{"offset":0.5125,"color":"rgba(158,205,250,0)"},{"offset":0.514,"color":"#9ecdfa"},{"offset":0.5155,"color":"rgba(158,205,250,0)"},
{"offset":0.525,"color":"rgba(158,205,250,0)"},{"offset":0.5265,"color":"#9ecdfa"},{"offset":0.528,"color":"rgba(158,205,250,0)"},
{"offset":0.5375,"color":"rgba(158,205,250,0)"},{"offset":0.539,"color":"#9ecdfa"},{"offset":0.5405,"color":"rgba(158,205,250,0)"},
{"offset":0.55,"color":"rgba(158,205,250,0)"},{"offset":0.5515,"color":"#9ecdfa"},{"offset":0.553,"color":"rgba(158,205,250,0)"},
{"offset":0.5625,"color":"rgba(158,205,250,0)"},{"offset":0.564,"color":"#9ecdfa"},{"offset":0.5655,"color":"rgba(158,205,250,0)"},
{"offset":0.575,"color":"rgba(158,205,250,0)"},{"offset":0.5765,"color":"#9ecdfa"},{"offset":0.578,"color":"rgba(158,205,250,0)"},
{"offset":0.5875,"color":"rgba(158,205,250,0)"},{"offset":0.589,"color":"#9ecdfa"},{"offset":0.5905,"color":"rgba(158,205,250,0)"},
{"offset":0.6,"color":"rgba(158,205,250,0)"},{"offset":0.6015,"color":"#9ecdfa"},{"offset":0.603,"color":"rgba(158,205,250,0)"},
{"offset":0.6125,"color":"rgba(158,205,250,0)"},{"offset":0.614,"color":"#9ecdfa"},{"offset":0.6155,"color":"rgba(158,205,250,0)"},
{"offset":0.625,"color":"rgba(158,205,250,0)"},{"offset":0.6265,"color":"#9ecdfa"},{"offset":0.628,"color":"rgba(158,205,250,0)"},
{"offset":0.6375,"color":"rgba(158,205,250,0)"},{"offset":0.639,"color":"#9ecdfa"},{"offset":0.6405,"color":"rgba(158,205,250,0)"},
{"offset":0.65,"color":"rgba(158,205,250,0)"},{"offset":0.6515,"color":"#9ecdfa"},{"offset":0.653,"color":"rgba(158,205,250,0)"},
{"offset":0.6625,"color":"rgba(158,205,250,0)"},{"offset":0.664,"color":"#9ecdfa"},{"offset":0.6655,"color":"rgba(158,205,250,0)"},
{"offset":0.675,"color":"rgba(158,205,250,0)"},{"offset":0.6765,"color":"#9ecdfa"},{"offset":0.678,"color":"rgba(158,205,250,0)"},
{"offset":0.6875,"color":"rgba(158,205,250,0)"},{"offset":0.689,"color":"#9ecdfa"},{"offset":0.6905,"color":"rgba(158,205,250,0)"},
{"offset":0.7,"color":"rgba(158,205,250,0)"},{"offset":0.7015,"color":"#9ecdfa"},{"offset":0.703,"color":"rgba(158,205,250,0)"},
{"offset":0.7125,"color":"rgba(158,205,250,0)"},{"offset":0.714,"color":"#9ecdfa"},{"offset":0.7155,"color":"rgba(158,205,250,0)"},
{"offset":0.725,"color":"rgba(158,205,250,0)"},{"offset":0.7265,"color":"#9ecdfa"},{"offset":0.728,"color":"rgba(158,205,250,0)"},
{"offset":0.7375,"color":"rgba(158,205,250,0)"},{"offset":0.739,"color":"#9ecdfa"},{"offset":0.7405,"color":"rgba(158,205,250,0)"},
{"offset":0.75,"color":"rgba(158,205,250,0)"},{"offset":0.7515,"color":"#9ecdfa"},{"offset":0.753,"color":"rgba(158,205,250,0)"},
{"offset":0.7625,"color":"rgba(158,205,250,0)"},{"offset":0.764,"color":"#9ecdfa"},{"offset":0.7655,"color":"rgba(158,205,250,0)"},
{"offset":0.775,"color":"rgba(158,205,250,0)"},{"offset":0.7765,"color":"#9ecdfa"},{"offset":0.778,"color":"rgba(158,205,250,0)"},
{"offset":0.7875,"color":"rgba(158,205,250,0)"},{"offset":0.789,"color":"#9ecdfa"},{"offset":0.7905,"color":"rgba(158,205,250,0)"},
{"offset":0.8,"color":"rgba(158,205,250,0)"},{"offset":0.8015,"color":"#9ecdfa"},{"offset":0.803,"color":"rgba(158,205,250,0)"},
{"offset":0.8125,"color":"rgba(158,205,250,0)"},{"offset":0.814,"color":"#9ecdfa"},{"offset":0.8155,"color":"rgba(158,205,250,0)"},
{"offset":0.825,"color":"rgba(158,205,250,0)"},{"offset":0.8265,"color":"#9ecdfa"},{"offset":0.828,"color":"rgba(158,205,250,0)"},
{"offset":0.8375,"color":"rgba(158,205,250,0)"},{"offset":0.839,"color":"#9ecdfa"},{"offset":0.8405,"color":"rgba(158,205,250,0)"},
{"offset":0.85,"color":"rgba(158,205,250,0)"},{"offset":0.8515,"color":"#9ecdfa"},{"offset":0.853,"color":"rgba(158,205,250,0)"},
{"offset":0.8625,"color":"rgba(158,205,250,0)"},{"offset":0.864,"color":"#9ecdfa"},{"offset":0.8655,"color":"rgba(158,205,250,0)"},
{"offset":0.875,"color":"rgba(158,205,250,0)"},{"offset":0.8765,"color":"#9ecdfa"},{"offset":0.878,"color":"rgba(158,205,250,0)"},
{"offset":0.8875,"color":"rgba(158,205,250,0)"},{"offset":0.889,"color":"#9ecdfa"},{"offset":0.8905,"color":"rgba(158,205,250,0)"},
{"offset":0.9,"color":"rgba(158,205,250,0)"},{"offset":0.9015,"color":"#9ecdfa"},{"offset":0.903,"color":"rgba(158,205,250,0)"},
{"offset":0.9125,"color":"rgba(158,205,250,0)"},{"offset":0.914,"color":"#9ecdfa"},{"offset":0.9155,"color":"rgba(158,205,250,0)"},
{"offset":0.925,"color":"rgba(158,205,250,0)"},{"offset":0.9265,"color":"#9ecdfa"},{"offset":0.928,"color":"rgba(158,205,250,0)"},
{"offset":0.9375,"color":"rgba(158,205,250,0)"},{"offset":0.939,"color":"#9ecdfa"},{"offset":0.9405,"color":"rgba(158,205,250,0)"},
{"offset":0.95,"color":"rgba(158,205,250,0)"},{"offset":0.9515,"color":"#9ecdfa"},{"offset":0.953,"color":"rgba(158,205,250,0)"},
{"offset":0.9625,"color":"rgba(158,205,250,0)"},{"offset":0.964,"color":"#9ecdfa"},{"offset":0.9655,"color":"rgba(158,205,250,0)"},
{"offset":0.975,"color":"rgba(158,205,250,0)"},{"offset":0.9765,"color":"#9ecdfa"},{"offset":0.978,"color":"rgba(158,205,250,0)"},
{"offset":0.9875,"color":"rgba(158,205,250,0)"},{"offset":0.989,"color":"#9ecdfa"},{"offset":0.9905,"color":"rgba(158,205,250,0)"},
{"offset":1,"color":"rgba(158,205,250,0)"}
]}}
}
}
